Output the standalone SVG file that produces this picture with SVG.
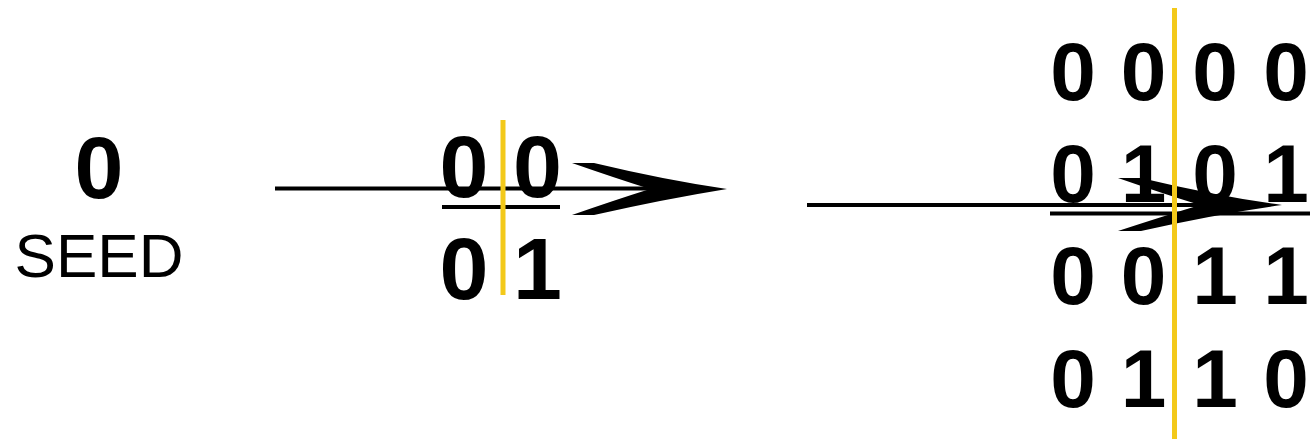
<svg xmlns="http://www.w3.org/2000/svg" width="1316" height="439" viewBox="0 0 1316 439">
<style>
.d{font-family:"Liberation Sans",Arial,sans-serif;font-weight:bold;fill:#000;text-anchor:middle}
.m1{font-size:88px}
.m2{font-size:82px}
.lbl{font-family:"Liberation Sans",Arial,sans-serif;font-size:62px;fill:#000;text-anchor:middle}
.ln{stroke:#000;stroke-width:4;fill:none}
.ul{stroke:#000;stroke-width:4}
.yl{stroke:#F3C91A;stroke-width:5}
.ah{fill:#000}
</style>
<rect width="1316" height="439" fill="#fff"/>
<g id="connectors">
<line class="ln" x1="275" y1="188.5" x2="680" y2="188.5"/>
<path class="ah" d="M572,163 L594,163 Q665,180 727,189 Q665,199 594,215 L572,215 Q615,200 650,189 Q615,178 572,163 Z"/>
<line class="ln" x1="807" y1="205" x2="1240" y2="205"/>
<path class="ah" d="M1118,178 L1141,178 Q1216,196 1282,205 Q1216,214 1141,231 L1118,231 Q1164,216 1200,205 Q1164,194 1118,178 Z"/>
</g>
<g id="seed">
<text class="d m1" x="99" y="198">0</text>
<text class="lbl" x="99" y="277">SEED</text>
</g>
<g id="matrix2x2">
<text class="d m1" x="464" y="197">0</text>
<text class="d m1" x="537.5" y="197">0</text>
<text class="d m1" x="464" y="299">0</text>
<text class="d m1" x="537.5" y="299">1</text>
<line class="ul" x1="442" y1="207" x2="560" y2="207"/>
<line class="yl" x1="503" y1="120" x2="503" y2="295"/>
</g>
<g id="matrix4x4">
<text class="d m2" x="1073" y="100">0</text>
<text class="d m2" x="1143.5" y="100">0</text>
<text class="d m2" x="1215" y="100">0</text>
<text class="d m2" x="1286" y="100">0</text>
<text class="d m2" x="1073" y="202">0</text>
<text class="d m2" x="1143.5" y="202">1</text>
<text class="d m2" x="1215" y="202">0</text>
<text class="d m2" x="1286" y="202">1</text>
<text class="d m2" x="1073" y="304">0</text>
<text class="d m2" x="1143.5" y="304">0</text>
<text class="d m2" x="1215" y="304">1</text>
<text class="d m2" x="1286" y="304">1</text>
<text class="d m2" x="1073" y="407">0</text>
<text class="d m2" x="1143.5" y="407">1</text>
<text class="d m2" x="1215" y="407">1</text>
<text class="d m2" x="1286" y="407">0</text>
<line class="ul" x1="1050" y1="213.5" x2="1310" y2="213.5"/>
<line class="yl" x1="1174.5" y1="8" x2="1174.5" y2="439"/>
</g>
</svg>
